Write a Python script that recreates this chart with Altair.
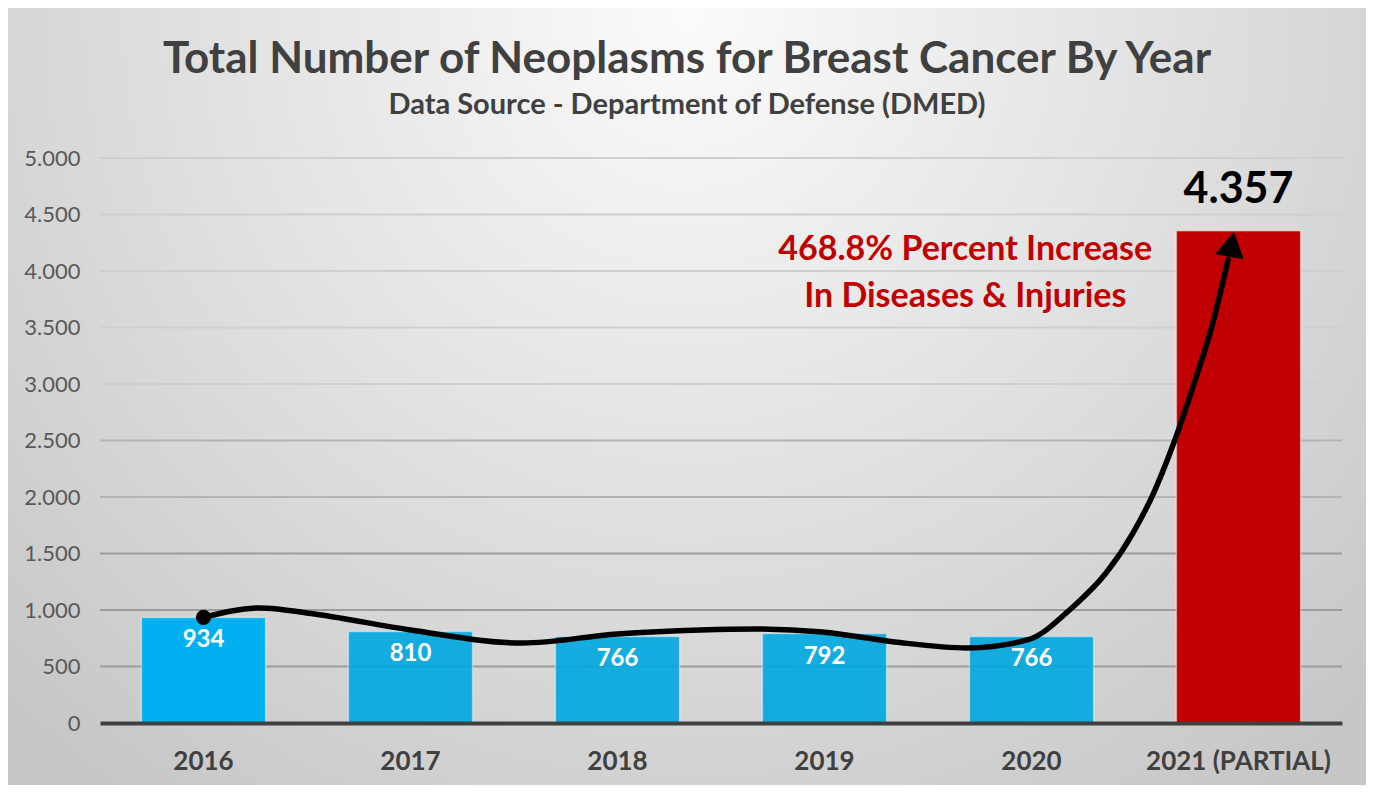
import altair as alt
import pandas as pd

# ---------------- data ----------------
title_text = "Total Number of Neoplasms for Breast Cancer By Year"
subtitle_text = "Data Source - Department of Defense (DMED)"

years = ["2016", "2017", "2018", "2019", "2020", "2021 (PARTIAL)"]
counts = [934, 810, 766, 792, 766, 4357]
count_labels = ["934", "810", "766", "792", "766", "4.357"]
bar_colors = ["#00B0F0", "#00A8E0", "#00A8E0", "#00A8E0", "#00A8E0", "#C00000"]

y_ticks = [0, 500, 1000, 1500, 2000, 2500, 3000, 3500, 4000, 4500, 5000]
grid_ticks = [500, 1000, 1500, 2000, 2500, 3000, 3500, 4000, 4500, 5000]

# hand-drawn trend arrow (x in category units 0..6, y in counts)
curve_x = [0.50, 0.77, 1.05, 1.50, 2.04, 2.50, 2.90, 3.17, 3.49, 3.84, 4.19,
           4.48, 4.70, 4.86, 4.99, 5.09, 5.18, 5.28, 5.38, 5.45]
curve_y = [934, 1018, 960, 823, 708, 788, 823, 832, 805, 717, 664,
           735, 1027, 1327, 1681, 2035, 2442, 2973, 3566, 4100]
arrow_head_x = [5.467]
arrow_head_y = [4236]

annot_lines = ["468.8% Percent Increase", "In Diseases & Injuries"]
annot_x = [4.18, 4.18]
annot_y = [4186, 3770]

# ---------------- tables ----------------
bars_df = pd.DataFrame({"year": years, "count": counts, "label": count_labels})
grid_df = pd.DataFrame({"tick": grid_ticks})
curve_df = pd.DataFrame({"cx": curve_x, "cy": curve_y})
dot_df = pd.DataFrame({"cx": curve_x[:1], "cy": curve_y[:1]})
head_df = pd.DataFrame({"cx": arrow_head_x, "cy": arrow_head_y})
annot_df = pd.DataFrame({"cx": annot_x, "cy": annot_y, "text": annot_lines})

W, H = 1242, 565
PAD = {"left": 92, "top": 150, "right": 24, "bottom": 62}
FONT = "Lato"
CENTER_X = 587  # horizontal centre of the whole chart, relative to plot left

y_scale = alt.Scale(domain=[0, 5000], nice=False)
band = alt.Scale(type="band", domain=years, paddingInner=0.4, paddingOuter=0.2)
q_x = alt.Scale(domain=[0, 6], nice=False, zero=False)

x_axis = alt.Axis(title=None, labelAngle=0, labelFont=FONT, labelFontSize=26,
                  labelFontWeight="bold", labelColor="#404040", labelPadding=25,
                  labelLimit=0,
                  domainColor="#404040", domainWidth=4, ticks=False, grid=False,
                  zindex=1)
y_axis = alt.Axis(title=None, values=y_ticks, labelFont=FONT, labelFontSize=22,
                  labelColor="#595959", labelPadding=20, domain=False, ticks=False,
                  grid=False, zindex=1,
                  labelExpr="replace(format(datum.value, ','), ',', '.')")

# background with radial gradient
bg = alt.Chart(alt.Data(values=[{"a": 1}])).mark_rect(
    fill=alt.Gradient(
        gradient="radial",
        stops=[alt.GradientStop(color="#fbfbfb", offset=0),
               alt.GradientStop(color="#c6c6c6", offset=1)],
        x1=0.5, y1=0.22, x2=0.5, y2=0.22, r1=0, r2=0.72,
    )
).encode(
    x=alt.value(-PAD["left"]), x2=alt.value(W + PAD["right"]),
    y=alt.value(-PAD["top"]), y2=alt.value(H + PAD["bottom"]),
)

grid = alt.Chart(grid_df).transform_calculate(
    col="datum.tick >= 3000 ? '#cfcfcf' : (datum.tick >= 2000 ? '#b4b4b4' : '#9c9c9c')"
).mark_rule(strokeWidth=1.8).encode(
    y=alt.Y("tick:Q", scale=y_scale, axis=y_axis),
    x=alt.value(0), x2=alt.value(W),
    color=alt.Color("col:N", scale=None),
)

bars = alt.Chart(bars_df).mark_bar(stroke="white", strokeOpacity=0.45, strokeWidth=1.5).encode(
    x=alt.X("year:N", sort=years, scale=band, axis=x_axis),
    y=alt.Y("count:Q", scale=y_scale, axis=y_axis),
    color=alt.Color("year:N", scale=alt.Scale(domain=years, range=bar_colors), legend=None),
    opacity=alt.condition("datum.year == '2016' || datum.year == '2021 (PARTIAL)'",
                          alt.value(1), alt.value(0.9)),
)

blue_labels = alt.Chart(bars_df).transform_filter(
    "datum.year != '2021 (PARTIAL)'"
).mark_text(dy=23, fontSize=24, fontWeight="bold", font=FONT, color="white",
            baseline="middle").encode(
    x=alt.X("year:N", sort=years, scale=band, axis=None),
    y=alt.Y("count:Q", scale=y_scale),
    text="label:N",
)

red_label = alt.Chart(bars_df).transform_filter(
    "datum.year == '2021 (PARTIAL)'"
).mark_text(dy=-41, fontSize=43, fontWeight="bold", font=FONT, color="black",
            baseline="middle").encode(
    x=alt.X("year:N", sort=years, scale=band, axis=None),
    y=alt.Y("count:Q", scale=y_scale),
    text="label:N",
)

curve = alt.Chart(curve_df).mark_line(color="black", strokeWidth=5.5,
                                      interpolate="monotone", strokeCap="round").encode(
    x=alt.X("cx:Q", scale=q_x, axis=None),
    y=alt.Y("cy:Q", scale=y_scale),
)

dot = alt.Chart(dot_df).mark_point(shape="circle", filled=True, size=230,
                                   color="black", opacity=1).encode(
    x=alt.X("cx:Q", scale=q_x, axis=None),
    y=alt.Y("cy:Q", scale=y_scale),
)

head = alt.Chart(head_df).mark_point(shape="triangle-up", filled=True, size=840,
                                     angle=10, color="black", opacity=1).encode(
    x=alt.X("cx:Q", scale=q_x, axis=None),
    y=alt.Y("cy:Q", scale=y_scale),
)

annot = alt.Chart(annot_df).mark_text(fontSize=34, fontWeight="bold", font=FONT,
                                      color="#C00000", baseline="middle").encode(
    x=alt.X("cx:Q", scale=q_x, axis=None),
    y=alt.Y("cy:Q", scale=y_scale),
    text="text:N",
)

title_mark = alt.Chart(alt.Data(values=[{"t": title_text}])).mark_text(
    font=FONT, fontSize=44, fontWeight="bold", color="#404040",
    baseline="alphabetic", align="center",
).encode(x=alt.value(CENTER_X), y=alt.value(-85), text="t:N")

subtitle_mark = alt.Chart(alt.Data(values=[{"t": subtitle_text}])).mark_text(
    font=FONT, fontSize=29, fontWeight="bold", color="#404040",
    baseline="alphabetic", align="center",
).encode(x=alt.value(CENTER_X), y=alt.value(-44), text="t:N")

chart = alt.layer(
    bg, grid, bars, blue_labels, red_label, curve, dot, head, annot,
    title_mark, subtitle_mark,
).resolve_scale(x="independent").properties(
    width=W, height=H,
    padding=PAD,
    autosize=alt.AutoSizeParams(type="none"),
    background="#e0e0e0",
).configure_view(stroke=None)

chart.save("out.html", embed_options={"renderer": "svg", "actions": False})
